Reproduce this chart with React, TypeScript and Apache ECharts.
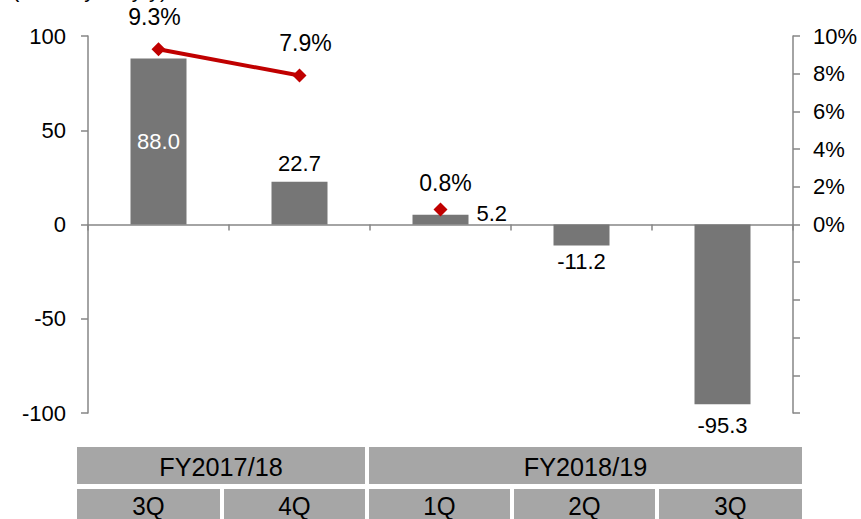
import React, { useEffect, useRef } from "react";
import * as echarts from "echarts";

const quarters = ["3Q", "4Q", "1Q", "2Q", "3Q"];
const fiscalYears = ["FY2017/18", "FY2018/19"];
const fySpans = [2, 3];
const barValues = [88.0, 22.7, 5.2, -11.2, -95.3];
const growthFY1718: (number | null)[] = [9.3, 7.9, null, null, null];
const growthFY1819: (number | null)[] = [null, null, 0.8, null, null];
const leftTicks = [-100, -50, 0, 50, 100];
const unitLabel = "(Billion yen, y/y)";

const W = 861;
const H = 519;
const gridLeft = 88;
const gridRight = 68;
const gridTop = 36;
const gridBottom = 106;

export default function App() {
  const ref = useRef<HTMLDivElement>(null);
  useEffect(() => {
    if (!ref.current) return;
    const chart = echarts.init(ref.current, undefined, { renderer: "svg", width: W, height: H });
    const font = "'Liberation Sans', Arial, sans-serif";
    const axisColor = "#868686";
    const red = "#C00000";

    const tableLeft = 77;
    const tableRight = 802;
    const colW = (tableRight - tableLeft) / quarters.length;
    const gap = 4;
    const row1Top = 447, row1H = 37, row2Top = 489, row2H = 32;
    const graphics: any[] = [];
    let startIdx = 0;
    fiscalYears.forEach((fy, i) => {
      const x0 = tableLeft + startIdx * colW + (startIdx === 0 ? 0 : gap / 2);
      const endIdx = startIdx + fySpans[i];
      const x1 = tableLeft + endIdx * colW - (endIdx === quarters.length ? 0 : gap / 2);
      graphics.push({
        type: "rect",
        shape: { x: x0, y: row1Top, width: x1 - x0, height: row1H },
        style: { fill: "#A6A6A6" },
        silent: true,
      });
      graphics.push({
        type: "text",
        x: (x0 + x1) / 2,
        y: row1Top + row1H / 2 + 1,
        scaleX: 0.97,
        style: { text: fy, fill: "#000", font: `26px ${font}`, align: "center", verticalAlign: "middle" },
        silent: true,
      });
      startIdx = endIdx;
    });
    quarters.forEach((q, i) => {
      const x0 = tableLeft + i * colW + (i === 0 ? 0 : gap / 2);
      const x1 = tableLeft + (i + 1) * colW - (i === quarters.length - 1 ? 0 : gap / 2);
      graphics.push({
        type: "rect",
        shape: { x: x0, y: row2Top, width: x1 - x0, height: row2H },
        style: { fill: "#A6A6A6" },
        silent: true,
      });
      graphics.push({
        type: "text",
        x: (x0 + x1) / 2,
        y: row2Top + 17,
        scaleX: 0.97,
        style: { text: q, fill: "#000", font: `25px ${font}`, align: "center", verticalAlign: "middle" },
        silent: true,
      });
    });
    graphics.push({
      type: "text",
      x: 12,
      y: 0,
      style: { text: unitLabel, fill: "#000", font: `22px ${font}`, align: "left", verticalAlign: "bottom" },
      silent: true,
    });

    const barLabelPos = ["inside", "top", "right", "bottom", "bottom"];
    const barData = barValues.map((v, i) => {
      const pos = barLabelPos[i];
      return {
        value: v,
        label: {
          position: pos,
          color: pos === "inside" ? "#fff" : "#000",
          distance: pos === "top" ? 7 : pos === "right" ? 8 : pos === "bottom" ? (i === 4 ? 10 : 5) : 5,
          offset: pos === "right" ? [0, -6] : [0, 0],
        },
      };
    });

    const lineLabel = {
      show: true,
      position: "top",
      distance: 8,
      fontSize: 23,
      fontFamily: font,
      color: "#000",
      formatter: (p: any) => (p.value == null ? "" : `${Number(p.value).toFixed(1)}%`),
    };
    const withOffsets = (arr: (number | null)[], dx: number[], dy: number) =>
      arr.map((v, i) => (v == null ? null : { value: v, label: { offset: [dx[i], dy] } }));

    chart.setOption({
      animation: false,
      textStyle: { fontFamily: font },
      graphic: graphics,
      grid: { left: gridLeft, right: gridRight, top: gridTop, bottom: gridBottom, containLabel: false },
      xAxis: {
        type: "category",
        data: quarters,
        axisLine: { onZero: true, onZeroAxisIndex: 0, lineStyle: { color: axisColor, width: 1.5 } },
        axisTick: { show: true, length: 6, inside: false, lineStyle: { color: axisColor, width: 1.5 } },
        axisLabel: { show: false },
        splitLine: { show: false },
      },
      yAxis: [
        {
          type: "value",
          min: -100,
          max: 100,
          interval: 50,
          axisLine: { show: true, lineStyle: { color: axisColor, width: 1.5 } },
          axisTick: { show: true, length: 7, lineStyle: { color: axisColor, width: 1.5 } },
          axisLabel: {
            color: "#000",
            fontSize: 22,
            fontFamily: font,
            margin: 22,
            formatter: (v: number) => (leftTicks.includes(v) ? String(v) : ""),
          },
          splitLine: { show: false },
        },
        {
          type: "value",
          min: -10,
          max: 10,
          interval: 2,
          position: "right",
          axisLine: { show: true, lineStyle: { color: axisColor, width: 1.5 } },
          axisTick: { show: true, length: 7, lineStyle: { color: axisColor, width: 1.5 } },
          axisLabel: {
            color: "#000",
            fontSize: 22,
            fontFamily: font,
            margin: 20,
            formatter: (v: number) => (v >= 0 ? `${v}%` : ""),
          },
          splitLine: { show: false },
        },
      ],
      series: [
        {
          type: "bar",
          yAxisIndex: 0,
          data: barData,
          barWidth: 56,
          itemStyle: { color: "#767676" },
          label: {
            show: true,
            fontSize: 22,
            fontFamily: font,
            formatter: (p: any) => Number(p.value).toFixed(1),
          },
        },
        {
          type: "line",
          yAxisIndex: 1,
          data: withOffsets(growthFY1718, [-4, 6, 0, 0, 0], -6),
          connectNulls: false,
          symbol: "diamond",
          symbolSize: 14,
          lineStyle: { color: red, width: 4 },
          itemStyle: { color: red },
          label: lineLabel,
          z: 5,
        },
        {
          type: "line",
          yAxisIndex: 1,
          data: withOffsets(growthFY1819, [0, 0, 5, 0, 0], 0),
          connectNulls: false,
          symbol: "diamond",
          symbolSize: 14,
          lineStyle: { color: red, width: 4 },
          itemStyle: { color: red },
          label: lineLabel,
          z: 5,
        },
      ],
    });
    return () => chart.dispose();
  }, []);
  return <div ref={ref} style={{ width: W, height: H, position: "absolute", left: 0, top: 0 }} />;
}
